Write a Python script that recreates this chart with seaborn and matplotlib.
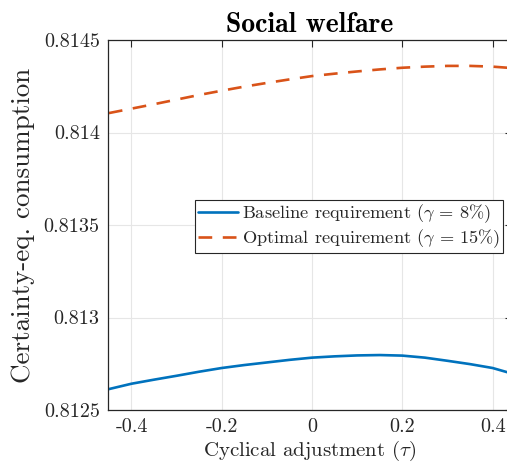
import numpy as np
import pandas as pd
import matplotlib
matplotlib.use("Agg")
import matplotlib.pyplot as plt
import seaborn as sns

# ---- data ----
tau = [-0.45, -0.40, -0.35, -0.30, -0.25, -0.20, -0.15, -0.10, -0.05, 0.00,
       0.05, 0.10, 0.15, 0.20, 0.25, 0.30, 0.35, 0.40, 0.45]
baseline = [0.812613, 0.812642, 0.812664, 0.812685, 0.812707, 0.812727, 0.812743,
            0.812757, 0.812771, 0.812783, 0.812790, 0.812795, 0.812797, 0.812794,
            0.812783, 0.812766, 0.812748, 0.812727, 0.812692]
optimal = [0.814105, 0.814129, 0.814153, 0.814178, 0.814203, 0.814226, 0.814248,
           0.814268, 0.814287, 0.814305, 0.814318, 0.814330, 0.814341, 0.814350,
           0.814356, 0.814360, 0.814360, 0.814356, 0.814347]
series_names = [r"Baseline requirement ($\gamma$ = 8%)",
                r"Optimal requirement ($\gamma$ = 15%)"]
xticks = [-0.4, -0.2, 0.0, 0.2, 0.4]
xticklabels = ["-0.4", "-0.2", "0", "0.2", "0.4"]
yticks = [0.8125, 0.8130, 0.8135, 0.8140, 0.8145]
yticklabels = ["0.8125", "0.813", "0.8135", "0.814", "0.8145"]

sns.set_style("white")
plt.rcParams["font.family"] = ["cmr10", "DejaVu Serif"]
plt.rcParams["mathtext.fontset"] = "cm"
plt.rcParams["axes.unicode_minus"] = False

df = pd.DataFrame({
    "tau": tau * 2,
    "value": baseline + optimal,
    "series": [series_names[0]] * len(tau) + [series_names[1]] * len(tau),
})

W, H = 507, 468
fig = plt.figure(figsize=(W / 100, H / 100), dpi=100)
left, right, top, bottom = 108, 512, 40, 410
ax = fig.add_axes([left / W, 1 - bottom / H, (right - left) / W, (bottom - top) / H])

colors = ["#0072BD", "#D95319"]
sns.lineplot(data=df, x="tau", y="value", hue="series", style="series",
             palette=colors, dashes=[(), (5.2, 4)], linewidth=1.9, ax=ax,
             legend=False)

ax.set_xlim(-0.452, 0.443)
ax.set_ylim(0.8125, 0.8145)
ax.set_xticks(xticks)
ax.set_xticklabels(xticklabels)
ax.set_yticks(yticks)
ax.set_yticklabels(yticklabels)
ax.tick_params(direction="in", length=5, width=0.8, top=True, right=True,
               labelsize=14.5, colors="#262626", pad=6)
for t in ax.get_xticklabels() + ax.get_yticklabels():
    t.set_color("#262626")
ax.grid(True, color="#e6e6e6", linewidth=0.8)
for s in ax.spines.values():
    s.set_color("#262626")
    s.set_linewidth(0.9)

ax.set_xlabel(r"Cyclical adjustment ($\tau$)", fontsize=15, color="#262626", labelpad=2)
ax.set_ylabel("Certainty-eq. consumption", fontsize=19.5, color="#262626", labelpad=6)
ax.set_title("Social welfare", fontsize=20, family="cmb10", color="black", pad=6)

from matplotlib.lines import Line2D
handles = [Line2D([], [], color=colors[0], linewidth=1.9),
           Line2D([], [], color=colors[1], linewidth=1.9, dashes=(5.2, 4))]
leg = ax.legend(handles, series_names, loc="upper right",
                bbox_to_anchor=(503 / W, 1 - 200 / H), bbox_transform=fig.transFigure,
                fontsize=13.2, frameon=True, fancybox=False, borderaxespad=0,
                handlelength=2.2, handletextpad=0.2, borderpad=0.15,
                labelspacing=0.1, framealpha=1)
leg.get_frame().set_edgecolor("#262626")
leg.get_frame().set_linewidth(0.8)

fig.savefig("out.png", dpi=100)
